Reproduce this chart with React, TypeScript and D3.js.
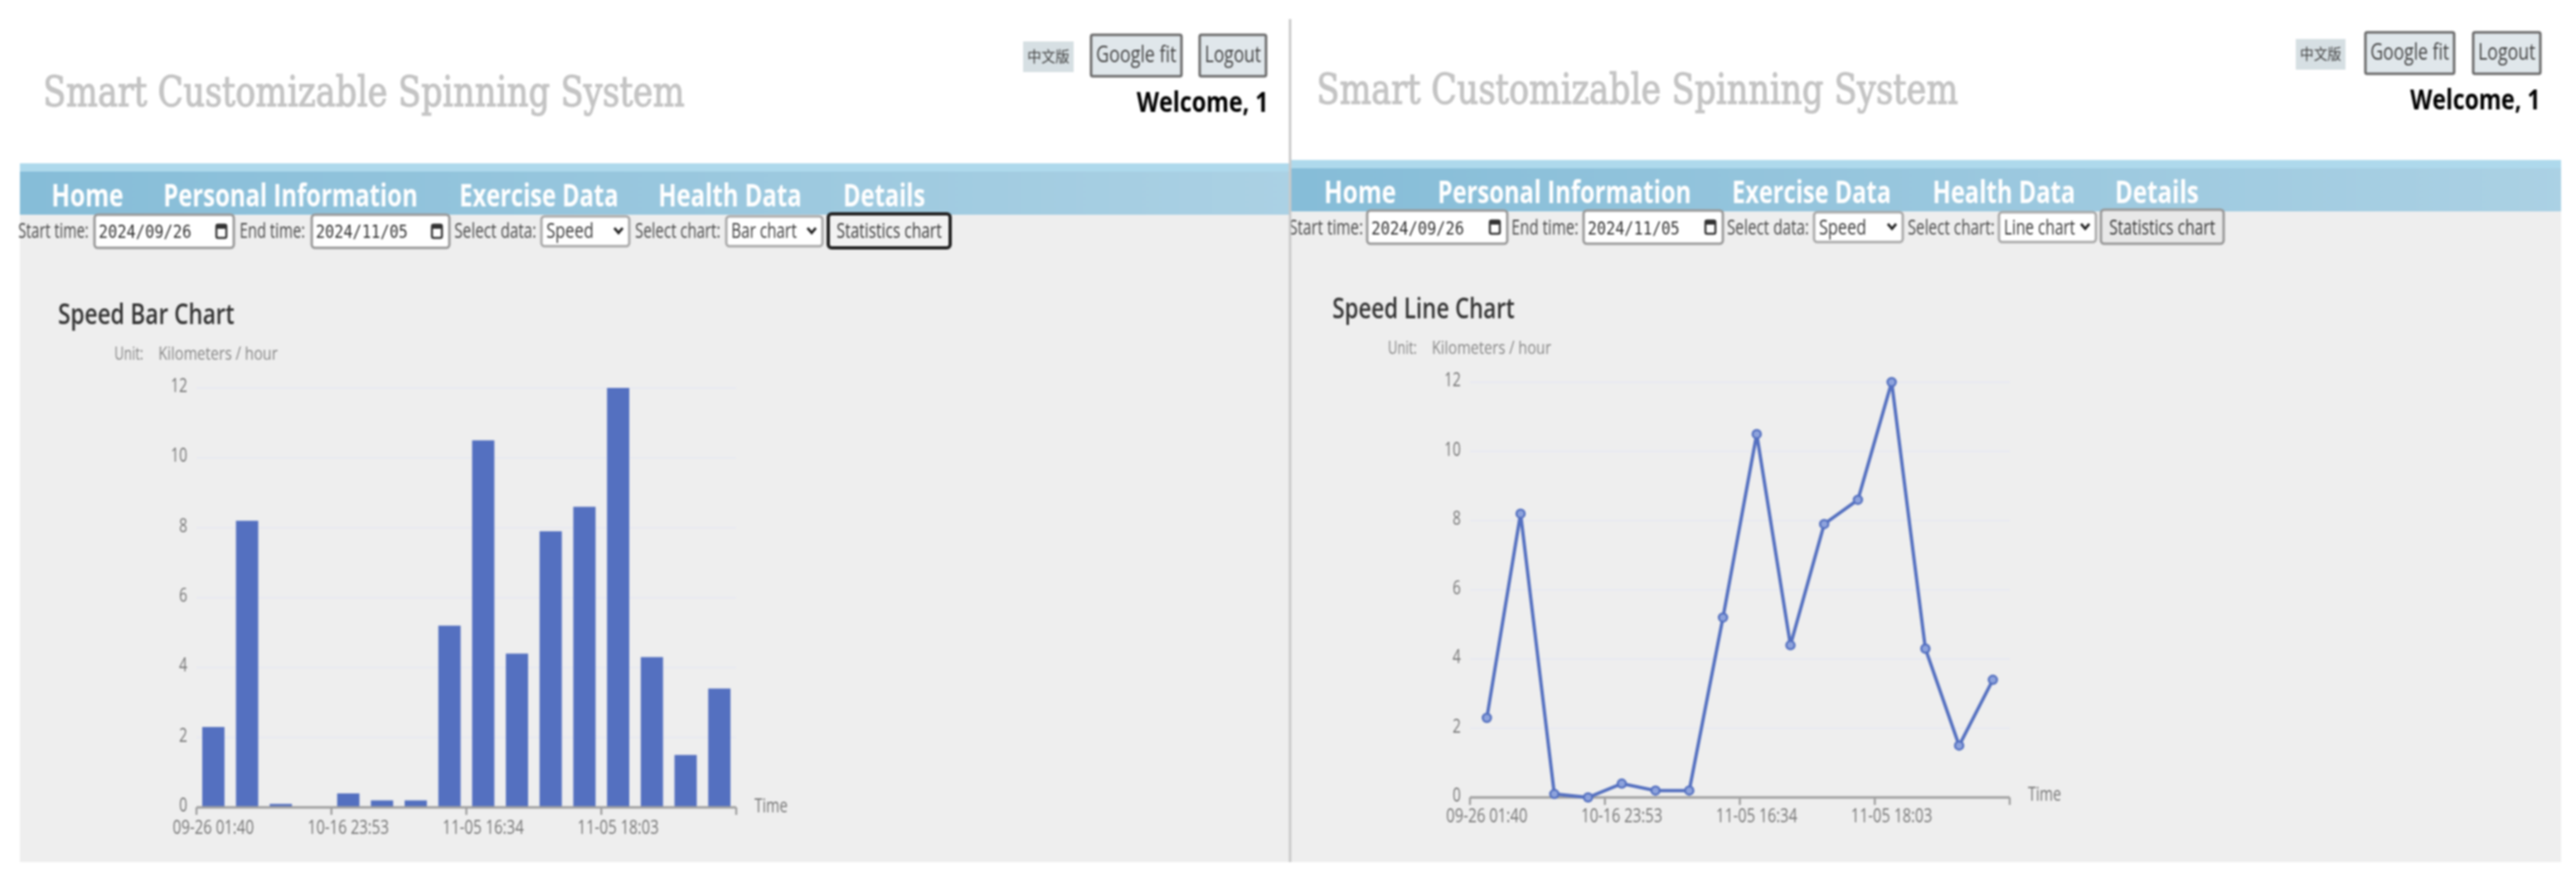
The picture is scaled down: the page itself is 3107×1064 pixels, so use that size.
import * as d3 from "d3";
import React from "react";

const categories = [
  "09-26 01:40", "c1", "c2", "c3",
  "10-16 23:53", "c5", "c6", "c7",
  "11-05 16:34", "c9", "c10", "c11",
  "11-05 18:03", "c13", "c14", "c15",
];
const speedValues = [2.3, 8.2, 0.1, 0, 0.4, 0.2, 0.2, 5.2, 10.5, 4.4, 7.9, 8.6, 12, 4.3, 1.5, 3.4];
const yTicks = [0, 2, 4, 6, 8, 10, 12];
const xTickLabels = ["09-26 01:40", "10-16 23:53", "11-05 16:34", "11-05 18:03"];
const navLabels = ["Home", "Personal Information", "Exercise Data", "Health Data", "Details"];

const SANS = "'Open Sans', 'Noto Sans', sans-serif";
const BLUE = "#5470c0";

const measurer = document.createElement("canvas").getContext("2d") as CanvasRenderingContext2D;

// text squeezed sideways to the span it covers in the picture
function T({ x0, x1, y, size, fill = "#333", weight = 400, family = SANS, stroke, children }: any) {
  measurer.font = `${weight} ${size}px ${family}`;
  const sx = (x1 - x0) / measurer.measureText(children).width;
  return (
    <text transform={`translate(${x0},${y}) scale(${sx},1)`} fontSize={size} fill={fill} fontWeight={weight}
      fontFamily={family} stroke={stroke} strokeWidth={stroke ? 1.3 : undefined}>
      {children}
    </text>
  );
}

function Box({ x0, x1, y0, y1, stroke = "#9a9a9a", sw = 3, fill = "#fff", r = 4 }: any) {
  return <rect x={x0} y={y0} width={x1 - x0} height={y1 - y0} rx={r} fill={fill} stroke={stroke} strokeWidth={sw} />;
}

function Header({ p }: any) {
  const { x0, x1, top } = p.banner;
  return (
    <g>
      <rect x={x0} y={top} width={x1 - x0} height={62} fill={`url(#${p.id}-band)`} />
      <rect x={x0} y={top} width={x1 - x0} height={10} fill="#aed9ec" />
      <rect x={x0} y={top + 62} width={x1 - x0} height={1040 - top - 62} fill="#eeeeee" />

      <T x0={p.title[0]} x1={p.title[1]} y={p.title[2]} size={50} fill="#c4c4c4" stroke="#c4c4c4" family="'DejaVu Serif', serif">
        Smart Customizable Spinning System
      </T>

      <rect x={p.lang[0]} y={p.lang[2]} width={p.lang[1] - p.lang[0]} height={37} fill="#d6dfe3" />
      <T x0={p.lang[0] + 5} x1={p.lang[1] - 5} y={p.lang[2] + 25} size={18} fill="#444" family="'Noto Sans CJK SC', sans-serif">
        中文版
      </T>
      <Box x0={p.google[0]} x1={p.google[1]} y0={p.google[2]} y1={p.google[2] + 50} fill="#e0e7eb" stroke="#6a6a6a" r={2} />
      <T x0={p.google[0] + 6} x1={p.google[1] - 6} y={p.google[2] + 33} size={28} fill="#444">Google fit</T>
      <Box x0={p.logout[0]} x1={p.logout[1]} y0={p.google[2]} y1={p.google[2] + 50} fill="#e0e7eb" stroke="#6a6a6a" r={2} />
      <T x0={p.logout[0] + 6} x1={p.logout[1] - 6} y={p.google[2] + 33} size={28} fill="#444">Logout</T>
      <T x0={p.welcome[0]} x1={p.welcome[1]} y={p.welcome[2]} size={34} fill="#000" weight={700}>Welcome, 1</T>

      {navLabels.map((label, i) => (
        <T key={label} x0={p.nav[i][0]} x1={p.nav[i][1]} y={p.navY} size={37} fill="#fff" weight={700}>{label}</T>
      ))}

      <Form p={p} />
    </g>
  );
}

function CalIcon({ cx, cy }: any) {
  return (
    <g>
      <rect x={cx - 6} y={cy - 8} width={12} height={16} rx={2} fill="none" stroke="#333" strokeWidth={2.5} />
      <rect x={cx - 6} y={cy - 8} width={12} height={5} fill="#333" />
    </g>
  );
}

function Chevron({ cx, cy }: any) {
  return <path d={`M${cx - 5},${cy - 3}L${cx},${cy + 3}L${cx + 5},${cy - 3}`} fill="none" stroke="#222" strokeWidth={3} />;
}

function Form({ p }: any) {
  const f = p.form;
  const mid = f.y0 + 20;
  return (
    <g>
      <T x0={f.start[0]} x1={f.start[1]} y={f.y} size={26} fill="#4c4c4c">Start time:</T>
      <Box x0={f.in1[0]} x1={f.in1[1]} y0={f.y0} y1={f.y0 + 40} />
      <T x0={f.in1[0] + 5} x1={f.in1[0] + 117} y={f.y} size={22} fill="#333" family="'DejaVu Sans Mono', monospace">2024/09/26</T>
      <CalIcon cx={f.in1[1] - 15} cy={mid} />

      <T x0={f.end[0]} x1={f.end[1]} y={f.y} size={26} fill="#4c4c4c">End time:</T>
      <Box x0={f.in2[0]} x1={f.in2[1]} y0={f.y0} y1={f.y0 + 40} />
      <T x0={f.in2[0] + 5} x1={f.in2[0] + 116} y={f.y} size={22} fill="#333" family="'DejaVu Sans Mono', monospace">2024/11/05</T>
      <CalIcon cx={f.in2[1] - 15} cy={mid} />

      <T x0={f.data[0]} x1={f.data[1]} y={f.y} size={26} fill="#4c4c4c">Select data:</T>
      <Box x0={f.sel1[0]} x1={f.sel1[1]} y0={f.y0 + 2} y1={f.y0 + 38} stroke="#aaa" />
      <T x0={f.sel1[0] + 6} x1={f.sel1[0] + 63} y={f.y} size={26} fill="#3c3c3c">Speed</T>
      <Chevron cx={f.sel1[1] - 13} cy={mid - 1} />

      <T x0={f.chart[0]} x1={f.chart[1]} y={f.y} size={26} fill="#4c4c4c">Select chart:</T>
      <Box x0={f.sel2[0]} x1={f.sel2[1]} y0={f.y0 + 2} y1={f.y0 + 38} stroke="#aaa" />
      <T x0={f.sel2[0] + 6} x1={f.sel2[0] + 6 + f.selW} y={f.y} size={26} fill="#3c3c3c">{p.chartName}</T>
      <Chevron cx={f.sel2[1] - 13} cy={mid - 1} />

      <Box x0={f.btn[0]} x1={f.btn[1]} y0={f.y0 - 1} y1={f.y0 + 40} fill={p.focused ? "#f2f2f2" : "#e8e8e8"}
        stroke={p.focused ? "#222" : "#999"} sw={p.focused ? 4 : 3} />
      <T x0={f.btn[0] + 10} x1={f.btn[1] - 10} y={f.y} size={26} fill="#3c3c3c">Statistics chart</T>
    </g>
  );
}

function Chart({ p }: any) {
  const c = p.chart;
  const x = d3.scaleBand<string>().domain(categories).range([c.x0, c.x1]);
  const y = d3.scaleLinear().domain([0, 12]).range([c.y0, c.y12]);
  const bar = x.bandwidth() * 0.66;
  const mid = (d: string) => (x(d) as number) + x.bandwidth() / 2;
  const points: [string, number][] = categories.map((d, i) => [d, speedValues[i]]);
  const line = d3.line<[string, number]>().x((d) => mid(d[0])).y((d) => y(d[1]));

  return (
    <g>
      <T x0={c.title[0]} x1={c.title[1]} y={c.title[2]} size={34} fill="#333" weight={600}>{p.chartTitle}</T>
      <T x0={c.unit[0]} x1={c.unit[1]} y={c.unit[3]} size={21} fill="#888">Unit:</T>
      <T x0={c.unit[1] + 18} x1={c.unit[2]} y={c.unit[3]} size={21} fill="#888">Kilometers / hour</T>

      {yTicks.map((t) => (
        <g key={t}>
          {t > 0 && <line x1={c.x0} x2={c.x1} y1={y(t)} y2={y(t)} stroke="#e8e9f1" strokeWidth={2} />}
          <T x0={c.yLabelX - (t >= 10 ? 20 : 10)} x1={c.yLabelX} y={y(t) + 5} size={24} fill="#777">{String(t)}</T>
        </g>
      ))}

      {p.kind === "bar" && categories.map((d, i) => (
        <rect key={d} x={mid(d) - bar / 2} y={y(speedValues[i])} width={bar}
          height={y(0) - y(speedValues[i])} fill={BLUE} />
      ))}

      <line x1={c.x0} x2={c.x1} y1={y(0)} y2={y(0)} stroke="#a0a0a0" strokeWidth={3} />
      {xTickLabels.concat("").map((_, i) => {
        const tx = c.x0 + i * 4 * x.step();
        return <line key={i} x1={tx} x2={tx} y1={y(0)} y2={y(0) + 9} stroke="#a0a0a0" strokeWidth={2.5} />;
      })}
      {xTickLabels.map((label) => (
        <T key={label} x0={mid(label) - 49} x1={mid(label) + 49} y={c.labelY} size={24} fill="#777">{label}</T>
      ))}
      <T x0={c.time[0]} x1={c.time[1]} y={c.time[2]} size={24} fill="#777">Time</T>

      {p.kind === "line" && (
        <g>
          <path d={line(points) as string} fill="none" stroke={BLUE} strokeWidth={4} />
          {points.map((d) => (
            <circle key={d[0]} cx={mid(d[0])} cy={y(d[1])} r={5} fill="#8ea3dc" stroke={BLUE} strokeWidth={2.5} />
          ))}
        </g>
      )}
    </g>
  );
}

const leftPanel = {
  id: "left", kind: "bar", chartName: "Bar chart", chartTitle: "Speed Bar Chart", focused: true,
  banner: { x0: 24, x1: 1555, top: 197 },
  title: [52, 826, 128], lang: [1234, 1295, 50], google: [1316, 1425, 42], logout: [1447, 1527],
  welcome: [1371, 1530, 135],
  nav: [[62, 149], [197, 504], [554, 746], [794, 967], [1017, 1116]], navY: 249,
  form: {
    y: 287, y0: 259, selW: 79,
    start: [22, 107], in1: [114, 282], end: [289, 368], in2: [376, 542],
    data: [548, 647], sel1: [653, 759], chart: [766, 869], sel2: [876, 992], btn: [999, 1146],
  },
  chart: {
    x0: 237, x1: 888, y0: 974, y12: 468, yLabelX: 226, labelY: 1006,
    title: [70, 283, 391], unit: [138, 173, 335, 434], time: [910, 950, 980],
  },
};

const rightPanel = {
  id: "right", kind: "line", chartName: "Line chart", chartTitle: "Speed Line Chart", focused: false,
  banner: { x0: 1556, x1: 3089, top: 193 },
  title: [1588, 2362, 125], lang: [2769, 2829, 47], google: [2853, 2960, 39], logout: [2983, 3064],
  welcome: [2907, 3064, 132],
  nav: [[1597, 1684], [1734, 2040], [2089, 2281], [2331, 2503], [2551, 2652]], navY: 245,
  form: {
    y: 283, y0: 254, selW: 86,
    start: [1555, 1644], in1: [1649, 1818], end: [1823, 1904], in2: [1910, 2078],
    data: [2083, 2182], sel1: [2188, 2295], chart: [2301, 2406], sel2: [2411, 2528], btn: [2534, 2682],
  },
  chart: {
    x0: 1773, x1: 2424, y0: 962, y12: 461, yLabelX: 1762, labelY: 992,
    title: [1607, 1827, 384], unit: [1674, 1709, 1871, 427], time: [2446, 2486, 966],
  },
};

export default function App() {
  return (
    <svg width={3107} height={1064} style={{ position: "absolute", left: 0, top: 0, filter: "blur(0.9px)" }}>
      <defs>
        {[leftPanel, rightPanel].map((p) => (
          <linearGradient key={p.id} id={`${p.id}-band`} x1="0" x2="1" y1="0" y2="0">
            <stop offset="0" stopColor="#86bdd8" />
            <stop offset="1" stopColor="#abd1e4" />
          </linearGradient>
        ))}
      </defs>
      <rect width={3107} height={1064} fill="#fff" />
      {[leftPanel, rightPanel].map((p) => (
        <g key={p.id}>
          <Header p={p} />
          <Chart p={p} />
        </g>
      ))}
      <rect x={1554.5} y={23} width={3} height={1017} fill="#c9c9c9" />
    </svg>
  );
}
